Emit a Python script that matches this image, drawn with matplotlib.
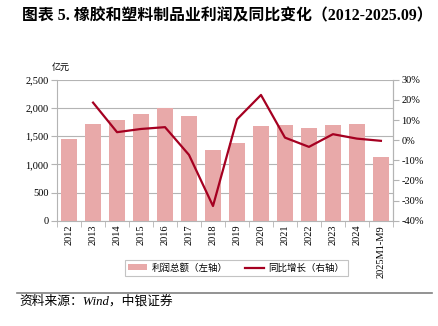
import matplotlib
matplotlib.use("Agg")
import matplotlib.pyplot as plt
import numpy as np
from matplotlib.ticker import FuncFormatter, FixedLocator

plt.rcParams['font.family'] = ['Liberation Serif', 'Noto Sans CJK SC', 'DejaVu Sans']

categories = ["2012", "2013", "2014", "2015", "2016", "2017", "2018", "2019",
              "2020", "2021", "2022", "2023", "2024", "2025M1-M9"]
profit = [1450, 1720, 1786, 1887, 2005, 1858, 1253, 1383, 1685, 1703, 1649, 1691, 1708, 1139]
growth = [None, 18.7, 4.0, 5.6, 6.5, -7.3, -32.7, 10.4, 22.5, 1.3, -3.3, 3.0, 0.8, -0.3]

bar_color = "#E8A9A9"
line_color = "#A50021"
grid_color = "#B4B4B4"

fig = plt.figure(figsize=(4.39, 3.26), dpi=100)
ax = fig.add_axes([0.13, 0.323, 0.765, 0.432])
x = np.arange(len(categories))
ax.bar(x, profit, width=0.66, color=bar_color, zorder=2, label="利润总额（左轴）")
ax.set_ylim(0, 2500)
ax.set_xlim(-0.5, len(categories) - 0.5)
ax.set_yticks(np.arange(0, 2501, 500))
ax.yaxis.set_major_formatter(FuncFormatter(lambda v, p: f"{int(v):,}"))
ax.grid(axis='y', color=grid_color, lw=0.8, zorder=0)
ax.set_axisbelow(True)
ax.set_xticks(x)
ax.set_xticklabels(categories, rotation=90, fontsize=7.5)
ax.tick_params(axis='x', length=0, pad=3)
ax.xaxis.set_minor_locator(FixedLocator(np.arange(-0.5, len(categories), 1)))
ax.tick_params(axis='x', which='minor', length=4, color=grid_color, direction='out')
ax.tick_params(axis='y', labelsize=7.5, length=4, color=grid_color, direction='out', pad=2)
ax.spines['top'].set_visible(False)
for s in ['left', 'bottom', 'right']:
    ax.spines[s].set_color(grid_color)
    ax.spines[s].set_linewidth(0.8)

ax2 = ax.twinx()
gx = [i for i, g in enumerate(growth) if g is not None]
gy = [g for g in growth if g is not None]
ax2.plot(gx, gy, color=line_color, lw=1.6, zorder=3, label="同比增长（右轴）")
ax2.set_ylim(-40, 30)
ax2.set_yticks(np.arange(-40, 31, 10))
ax2.yaxis.set_major_formatter(FuncFormatter(lambda v, p: f"{int(v)}%"))
ax2.tick_params(axis='y', labelsize=7.5, length=4, color=grid_color, direction='out', pad=2)
for s in ['top', 'left', 'bottom']:
    ax2.spines[s].set_visible(False)
ax2.spines['right'].set_color(grid_color)
ax2.spines['right'].set_linewidth(0.8)

fig.text(0.118, 0.793, "亿元", fontsize=6.5, ha='left', va='center',
         family=['Noto Sans CJK SC'])

h1, l1 = ax.get_legend_handles_labels()
h2, l2 = ax2.get_legend_handles_labels()
leg = fig.legend(h1 + h2, l1 + l2, loc='center', bbox_to_anchor=(0.538, 0.178),
                 ncol=2, fancybox=False, edgecolor=grid_color,
                 handlelength=2.0, handleheight=0.6, columnspacing=1.8, borderpad=0.35,
                 handletextpad=0.5,
                 prop={'family': ['Noto Sans CJK SC'], 'size': 6.8})
leg.get_frame().set_linewidth(0.8)

fig.text(0.05, 0.95, "图表 5. 橡胶和塑料制品业利润及同比变化（2012-2025.09）",
         fontsize=11.4, fontweight='bold', ha='left', va='center',
         family=['Liberation Serif', 'Noto Sans CJK SC'])

fig.add_artist(plt.Line2D([0.039, 0.984], [0.102, 0.102], color='#808080', lw=1.2))
fig.text(0.045, 0.075, "资料来源：Wind，中银证券", fontsize=9.2, style='italic',
         ha='left', va='center', family=['Liberation Serif', 'Noto Sans CJK SC'])

fig.savefig("out.png", dpi=100)
